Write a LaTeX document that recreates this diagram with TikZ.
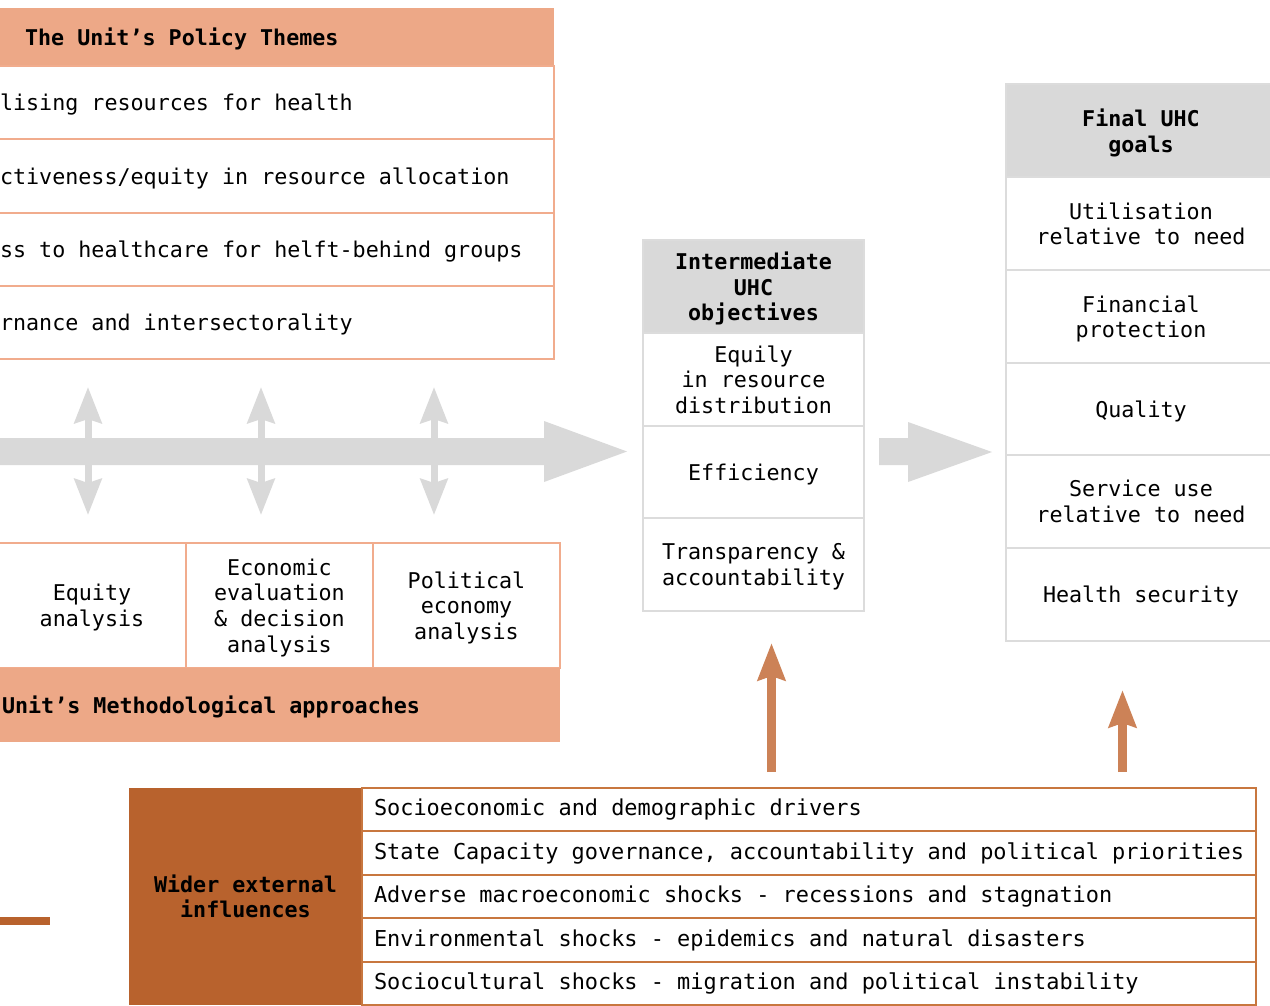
\documentclass[tikz,border=0pt]{standalone}
\usepackage{fontspec}
\usetikzlibrary{arrows.meta}
\newfontfamily\mono{DejaVu Sans Mono}
\definecolor{salmon}{HTML}{EDA887}
\definecolor{salmonline}{HTML}{F1AC8D}
\definecolor{greyfill}{HTML}{D9D9D9}
\definecolor{greyline}{HTML}{DCDCDC}
\definecolor{rust}{HTML}{B8622D}
\definecolor{rustline}{HTML}{C8773F}
\definecolor{copper}{HTML}{CC8257}
\tikzset{
  base/.style={font=\mono\fontsize{21.7}{25.6}\selectfont, inner ysep=0pt, outer sep=0pt, anchor=north west, text depth=0pt},
  basebold/.style={base, font=\mono\bfseries\fontsize{21.7}{25.6}\selectfont},
  ptrow/.style={base, draw=salmonline, line width=1.4pt, fill=white, align=flush left, text width=544pt, inner xsep=10pt, minimum height=73pt},
  pthead/.style={basebold, fill=salmon, align=flush left, text width=494pt, inner xsep=35pt, minimum height=58pt},
  macell/.style={base, draw=salmonline, line width=1.4pt, fill=white, align=center, inner xsep=0pt, minimum height=125pt},
  mafoot/.style={basebold, fill=salmon, align=flush left, text width=546pt, inner xsep=12pt, minimum height=74pt},
  greybox/.style={base, draw=greyline, line width=1.3pt, fill=white, align=center, inner xsep=0pt},
  greyhead/.style={basebold, draw=greyline, line width=1.3pt, fill=greyfill, align=center, inner xsep=0pt},
  werow/.style={base, text depth=, font=\mono\fontsize{21.9}{25}\selectfont, draw=rustline, line width=1.5pt, fill=white, align=flush left, text width=870pt, inner xsep=12pt, minimum height=43pt},
  wehead/.style={basebold, text depth=, fill=rust, align=flush center, text width=233pt, inner xsep=0pt, minimum height=217pt},
  greyarrow/.style={greyfill, line width=7pt, {Stealth[length=36pt,width=27pt,inset=4pt]}-{Stealth[length=36pt,width=27pt,inset=4pt]}},
  copperarrow/.style={copper, line width=9pt, -{Stealth[length=37pt,width=27pt,inset=4pt]}}
}
\begin{document}
\begin{tikzpicture}[x=1pt,y=-1pt]
\useasboundingbox (0,0) rectangle (1270,1005);
\clip (0,0) rectangle (1270,1005);
\fill[white] (0,0) rectangle (1270,1005);

% Policy themes table
\node[pthead] (pthead) at (-10,8) {The Unit’s Policy Themes};
\node[ptrow] (pt1) at (-10,66) {lising resources for health};
\node[ptrow, minimum height=74pt] (pt2) at (-10,139) {ctiveness/equity in resource allocation};
\node[ptrow] (pt3) at (-10,213) {ss to healthcare for helft-behind groups};
\node[ptrow] (pt4) at (-10,286) {rnance and intersectorality};

% Big grey arrows
\fill[greyfill] (-5,438) -- (544,438) -- (544,421) -- (627,451.5) -- (544,482) -- (544,465) -- (-5,465) -- cycle;
\fill[greyfill] (879,438) -- (908,438) -- (908,422) -- (992,452) -- (908,482) -- (908,465) -- (879,465) -- cycle;

% vertical double arrows
\coordinate (v1t) at (88,387); \coordinate (v1b) at (88,515);
\coordinate (v2t) at (261,387); \coordinate (v2b) at (261,515);
\coordinate (v3t) at (434,387); \coordinate (v3b) at (434,515);
\draw[greyarrow] (v1t) -- (v1b);
\draw[greyarrow] (v2t) -- (v2b);
\draw[greyarrow] (v3t) -- (v3b);

% Methodological approaches
\node[macell, minimum width=188pt] (ma1) at (-2,543) {Equity\\analysis};
\node[macell, minimum width=187pt] (ma2) at (186,543) {Economic\\evaluation\\\& decision\\analysis};
\node[macell, minimum width=187pt] (ma3) at (373,543) {Political\\economy\\analysis};
\node[mafoot] (mafoot) at (-10,668) {Unit’s Methodological approaches};

% Intermediate objectives
\node[greyhead, minimum width=221pt, minimum height=93pt] (imhead) at (643,240) {Intermediate\\UHC\\objectives};
\node[greybox, minimum width=221pt, minimum height=93pt] (im1) at (643,333) {Equily\\in resource\\distribution};
\node[greybox, minimum width=221pt, minimum height=92pt] (im2) at (643,426) {Efficiency};
\node[greybox, minimum width=221pt, minimum height=93pt] (im3) at (643,518) {Transparency \&\\accountability};

% Final goals
\node[greyhead, minimum width=270pt, minimum height=93pt] (fghead) at (1006,84) {Final UHC\\goals};
\node[greybox, minimum width=270pt, minimum height=93pt] (fg1) at (1006,177) {Utilisation\\relative to need};
\node[greybox, minimum width=270pt, minimum height=93pt] (fg2) at (1006,270) {Financial\\protection};
\node[greybox, minimum width=270pt, minimum height=92pt] (fg3) at (1006,363) {Quality};
\node[greybox, minimum width=270pt, minimum height=93pt] (fg4) at (1006,455) {Service use\\relative to need};
\node[greybox, minimum width=270pt, minimum height=93pt] (fg5) at (1006,548) {Health security};

% Copper arrows
\coordinate (oa1s) at (771.5,772); \coordinate (oa1e) at (771.5,643);
\coordinate (oa2s) at (1122.5,772); \coordinate (oa2e) at (1122.5,690);
\draw[copperarrow] (oa1s) -- (oa1e);
\draw[copperarrow] (oa2s) -- (oa2e);

% Wider external influences
\node[wehead] (wehead) at (129,788) {Wider external\\influences};
\node[werow] (we1) at (362,788) {Socioeconomic and demographic drivers};
\node[werow, minimum height=44pt] (we2) at (362,831) {State Capacity governance, accountability and political priorities};
\node[werow] (we3) at (362,875) {Adverse macroeconomic shocks - recessions and stagnation};
\node[werow, minimum height=44pt] (we4) at (362,918) {Environmental shocks - epidemics and natural disasters};
\node[werow] (we5) at (362,962) {Sociocultural shocks - migration and political instability};

% small left bar
\fill[rust] (0,917) rectangle (50,925);
\end{tikzpicture}
\end{document}
